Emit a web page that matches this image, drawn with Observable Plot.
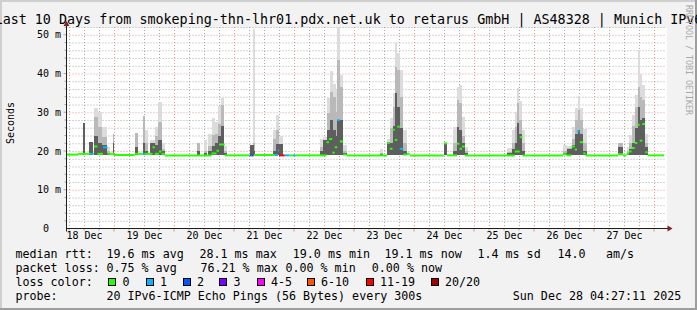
<!DOCTYPE html>
<html><head><meta charset="utf-8">
<script src="https://cdn.jsdelivr.net/npm/d3@7"></script>
<script src="https://cdn.jsdelivr.net/npm/@observablehq/plot@0.6"></script>
<style>
html,body{margin:0;padding:0;background:#f2f2f2;}
#chart{width:697px;height:310px;overflow:hidden;}
svg text{font-family:"DejaVu Sans Mono",monospace;}
</style></head>
<body><div id="chart"></div>
<script>
// ---------- data ----------
const titleText = "Last 10 Days from smokeping-thn-lhr01.pdx.net.uk to retarus GmbH | AS48328 | Munich IPv6";
const yLabelText = "Seconds";
const yTickValues = [0, 10, 20, 30, 40, 50];
const yTickLabels = ["0", "10 m", "20 m", "30 m", "40 m", "50 m"];
const xTickDays = [18, 19, 20, 21, 22, 23, 24, 25, 26, 27];
const xTickLabels = ["18 Dec", "19 Dec", "20 Dec", "21 Dec", "22 Dec", "23 Dec", "24 Dec", "25 Dec", "26 Dec", "27 Dec"];

const lossClassLabels = ["0", "1", "2", "3", "4-5", "6-10", "11-19", "20/20"];
const lossClassMax = [0, 1, 2, 3, 5, 10, 19, 20];
const lossClassColors = ["#26ff00", "#00b8ff", "#0059ff", "#7e00ff", "#ff00ff", "#ff5500", "#ff0000", "#a10000"];

const rttStats = ["19.6 ms avg", "28.1 ms max", "19.0 ms min", "19.1 ms now", "1.4 ms sd", "14.0", "am/s"];
const lossStats = ["0.75 % avg", "76.21 % max", "0.00 % min", "0.00 % now"];
const probeText = "20 IPv6-ICMP Echo Pings (56 Bytes) every 300s";
const stampText = "Sun Dec 28 04:27:11 2025";
const watermarkText = "RRDTOOL / TOBI OETIKER";

// time in hours since 18 Dec 00:00
const floorMs = 19.0;
const smokeStartH = [11.4,14.0,16.0,17.4,19.0,21.0,23.4,32.3,35.4,36.3,38.3,40.3,41.6,43.0,
  57.3,59.9,61.6,63.0,64.3,65.4,66.7,68.0,78.3,79.4,87.4,88.7,90.0,
  106.3,107.4,109.0,110.3,111.7,112.8,113.3,114.3,115.7,
  130.3,133.3,134.3,135.4,136.3,137.3,138.3,139.7,
  155.9,159.6,161.0,162.0,163.0,164.3,
  181.0,183.0,184.3,185.3,186.0,187.0,
  203.6,205.0,207.0,208.3,209.4,210.3,211.7,
  225.6,229.0,229.9,231.3,232.3,233.4,234.3,235.2,236.3];
const smokeEndH = [12.3,15.6,17.4,19.0,21.0,22.3,24.0,33.6,36.3,37.6,40.3,41.6,43.0,44.3,
  58.3,61.0,63.0,64.3,65.4,66.7,68.0,69.1,79.9,80.3,88.7,90.0,91.4,
  107.4,109.0,110.3,111.7,112.8,113.3,114.3,115.7,117.0,
  131.7,134.3,135.4,136.3,137.3,138.3,139.7,141.0,
  157.2,161.0,162.0,163.0,164.3,165.5,
  183.0,184.3,185.3,186.0,187.0,188.3,
  205.0,207.0,208.3,209.4,210.3,211.7,213.0,
  227.6,229.9,231.3,232.3,233.4,234.3,235.2,236.3,237.4];
const smokeLight = [27.3,22.4,31.0,30.1,26.2,21.0,24.3,24.6,29.0,25.4,22.8,26.2,32.7,22.0,
  22.1,22.8,24.5,28.4,27.5,31.6,33.8,21.3,21.5,51.6,25.4,29.4,24.0,
  23.0,23.5,33.8,40.7,37.4,35.7,51.9,39.6,21.5,
  20.5,23.2,28.4,34.9,47.8,45.2,40.9,25.4,
  22.1,26.2,36.6,37.0,28.8,21.0,
  20.8,25.4,30.1,36.2,33.0,25.4,
  21.5,21.3,26.2,31.0,34.2,31.0,25.8,
  22.1,21.0,24.1,29.3,34.4,46.0,40.0,37.0,24.5];
const smokeMid = [27.3,22.4,28.8,26.2,23.7,20.0,24.3,24.6,29.0,22.0,22.0,24.0,27.5,20.5,
  22.1,20.0,21.2,24.1,24.5,27.0,31.8,20.0,21.5,22.0,23.2,25.4,21.8,
  21.0,22.8,29.7,35.3,34.0,30.0,43.5,36.6,20.0,
  19.5,22.2,26.0,31.4,41.7,40.9,34.0,22.0,
  22.1,22.0,33.1,32.3,24.0,20.0,
  19.8,22.0,26.2,32.3,28.0,22.0,
  20.0,20.7,23.0,28.0,30.6,28.0,22.0,
  22.1,20.0,22.0,26.5,31.4,36.6,34.0,33.1,22.0];
const smokeDark = [27.3,22.4,24.0,22.0,21.5,19.5,22.0,21.0,22.0,20.0,22.0,21.5,22.8,20.0,
  20.0,19.5,20.0,21.2,22.0,24.0,26.5,19.5,21.5,20.0,20.0,21.8,21.8,
  20.0,22.8,25.4,28.0,25.4,24.0,28.0,28.0,19.5,
  19.2,22.2,22.0,26.5,34.9,31.4,26.0,20.0,
  22.1,20.0,26.2,25.5,22.0,19.5,
  19.4,20.5,22.0,27.1,24.5,20.0,
  19.5,20.5,21.5,24.5,25.4,24.5,20.0,
  21.0,19.5,20.5,22.0,26.0,31.4,28.0,28.5,21.0];

// median rtt: step segments (start hour, value in ms, lost pings out of 20)
const medianEndH = 244;
const medStartH = [5,9.6,14.4,15.6,16.0,17.4,19.6,21.4,24.0,32.3,35.4,36.3,39.4,40.3,42.0,43.0,44.3,
  63.0,65.0,66.0,68.3,78.3,79.1,79.9,88.3,89.6,90.0,92.3,94.3,95.6,96.7,
  109.0,110.0,111.3,112.3,113.3,114.3,115.7,117.0,
  133.3,134.3,135.4,136.3,137.3,138.3,139.7,141.0,142.3,
  155.9,157.2,161.2,162.2,163.2,164.3,
  184.3,186.3,187.4,
  203.6,205.0,207.0,208.3,209.2,210.3,211.7,212.7,
  225.6,227.6,229.0,230.0,231.0,232.3,233.3,234.3,235.3,236.5,237.5];
const medMs = [19.2,19.4,19.4,19.4,21.3,19.4,21.1,19.4,19.1,19.4,19.4,19.4,21.1,19.4,20.0,19.4,19.0,
  19.5,20.2,21.8,19.0,19.0,19.0,19.1,19.1,20.3,19.0,19.0,19.0,19.0,19.0,
  22.4,23.2,19.7,21.1,28.1,22.6,19.2,19.0,
  22.2,20.7,25.6,23.0,26.4,20.7,19.2,19.4,19.0,
  22.1,19.0,22.0,20.7,21.3,19.0,
  20.0,23.7,19.0,
  19.3,19.0,21.3,20.5,25.2,22.4,19.5,19.0,
  19.3,19.0,19.4,20.0,20.9,22.2,26.9,22.8,27.1,19.8,19.0];
const medLoss = [0,0,1,0,0,0,1,0,0,0,1,0,0,0,0,0,0,
  0,0,0,0,2,3,0,1,1,15,1,0,1,0,
  0,0,0,0,1,0,0,0,
  0,0,0,0,0,1,0,0,0,
  0,0,0,0,0,0,
  0,0,0,
  0,0,0,0,1,0,0,0,
  0,0,0,0,0,0,0,0,0,0,0];

// ---------- build ----------
const H0 = Date.UTC(2025, 11, 18);
const at = h => new Date(H0 + h * 3600e3);
const xDomain = [at(5), at(245)];
const lossColor = n => lossClassColors[lossClassMax.findIndex(m => n <= m)];

const smoke = smokeStartH.map((h, i) => ({
  x1: at(h), x2: at(smokeEndH[i]), light: smokeLight[i], mid: smokeMid[i], dark: smokeDark[i]
}));
const median = medStartH.map((h, i) => ({
  x1: at(h), x2: at(i + 1 < medStartH.length ? medStartH[i + 1] : medianEndH),
  y: medMs[i], color: lossColor(medLoss[i])
}));

const hours6 = d3.utcHour.every(6).range(xDomain[0], xDomain[1]);
const midnights = hours6.filter(d => d.getUTCHours() === 0);
const minor6 = hours6.filter(d => d.getUTCHours() !== 0);
const yMinor = d3.range(2, 52.01, 2).filter(v => v % 10 !== 0);
const yMajor = yTickValues.filter(v => v > 0);

const GRID = "rgba(143,143,143,0.75)";
const MGRID = "rgba(222,79,79,0.6)";

const plot = Plot.plot({
  width: 697, height: 310,
  marginLeft: 66.5, marginRight: 30.5, marginTop: 27, marginBottom: 81.5,
  style: {background: "transparent", fontFamily: "'DejaVu Sans Mono', monospace", fontSize: "10px", color: "#000", overflow: "hidden"},
  x: {type: "utc", domain: xDomain, axis: null},
  y: {domain: [0, 52], axis: null},
  color: {type: "identity"},
  marks: [
    Plot.frame({fill: "white", stroke: "none"}),
    Plot.ruleY(yMinor, {stroke: GRID, strokeDasharray: "1,2"}),
    Plot.ruleX(minor6, {stroke: GRID, strokeDasharray: "1,2"}),
    Plot.ruleY(yMajor, {stroke: MGRID, strokeDasharray: "1,2"}),
    Plot.ruleX(midnights, {stroke: MGRID, strokeDasharray: "1,2"}),
    Plot.rect(smoke, {x1: "x1", x2: "x2", y1: () => floorMs, y2: "light", fill: "#dcdcdc", shapeRendering: "crispEdges"}),
    Plot.rect(smoke, {x1: "x1", x2: "x2", y1: () => floorMs, y2: "mid", fill: "#b9b9b9", shapeRendering: "crispEdges"}),
    Plot.rect(smoke, {x1: "x1", x2: "x2", y1: () => floorMs, y2: "dark", fill: "#5e5e5e", shapeRendering: "crispEdges"}),
    Plot.ruleY(median, {x1: "x1", x2: "x2", y: "y", stroke: "color", strokeWidth: 2}),
    Plot.text(yMajor, {y: d => d, text: d => yTickLabels[yTickValues.indexOf(d)], frameAnchor: "left", textAnchor: "end", dx: -6, fontSize: 10}),
    Plot.text([0], {y: d => d, text: d => yTickLabels[yTickValues.indexOf(d)], frameAnchor: "left", textAnchor: "end", dx: -18, fontSize: 10}),
    Plot.text(xTickDays, {x: d => at((d - 18) * 24 + 12), text: (d, i) => xTickLabels[i], frameAnchor: "bottom", dy: 9.5, fontSize: 10})
  ]
});
document.getElementById("chart").appendChild(plot);

// ---------- decorations through Plot's scales ----------
const svg = d3.select(plot);
const sx = plot.scale("x"), sy = plot.scale("y");
const X = d => sx.apply(d), Y = v => sy.apply(v);
const xl = X(xDomain[0]), xr = X(xDomain[1]), y0 = Y(0);
const g = svg.append("g");

// y ticks
yMinor.forEach(v => g.append("line").attr("x1", xl - 2).attr("x2", xl).attr("y1", Y(v)).attr("y2", Y(v)).attr("stroke", GRID));
yMajor.forEach(v => g.append("line").attr("x1", xl - 3).attr("x2", xl).attr("y1", Y(v)).attr("y2", Y(v)).attr("stroke", MGRID));
// x ticks
minor6.forEach(d => g.append("line").attr("x1", X(d)).attr("x2", X(d)).attr("y1", y0).attr("y2", y0 + 2).attr("stroke", GRID));
midnights.forEach(d => g.append("line").attr("x1", X(d)).attr("x2", X(d)).attr("y1", y0).attr("y2", y0 + 3).attr("stroke", MGRID));
// axes
g.append("line").attr("x1", xl).attr("x2", xr + 2).attr("y1", y0).attr("y2", y0).attr("stroke", "#1f1f1f");
g.append("line").attr("x1", xl).attr("x2", xl).attr("y1", y0 + 3).attr("y2", Y(52) - 1).attr("stroke", "#1f1f1f");
g.append("path").attr("d", `M${xr + 1},${y0 - 3}L${xr + 1},${y0 + 3}L${xr + 6},${y0}Z`).attr("fill", "#801f1f");
g.append("path").attr("d", `M${xl - 3},${Y(52) - 1}L${xl + 3},${Y(52) - 1}L${xl},${Y(52) - 6}Z`).attr("fill", "#801f1f");

// frame shading
svg.append("path").attr("d", "M0,310V0H697V2H2V310Z").attr("fill", "#cfcfcf");
svg.append("path").attr("d", "M697,0V310H0V308H695V0Z").attr("fill", "#9e9e9e");

// title
svg.append("text").attr("x", 348.5).attr("y", 23.5).attr("text-anchor", "middle")
  .attr("font-size", 13.36).attr("fill", "#000").text(titleText);
// y label
svg.append("text").attr("transform", "translate(13.5,123) rotate(-90)").attr("text-anchor", "middle")
  .attr("font-size", 10).attr("fill", "#000").text(yLabelText);
// watermark
svg.append("text").attr("transform", "translate(688.5,5) rotate(90)").attr("text-anchor", "start")
  .attr("font-size", 8.3).attr("fill", "#a8a8a8").attr("dominant-baseline", "central")
  .text(watermarkText);

// legend
const LF = 11.66;
const rows = [258.3, 272.3, 286.3, 300.3];
const put = (x, y, s) => svg.append("text").attr("x", x).attr("y", y).attr("text-anchor", "start")
  .attr("font-size", LF).attr("fill", "#000").text(s);
put(15.5, rows[0], "median rtt:");
[106.5, 199.5, 292.8, 384.5, 477.5, 557.5, 606].forEach((x, i) => put(x, rows[0], rttStats[i]));
put(15.5, rows[1], "packet loss:");
[106.5, 200.5, 285.5, 371.8].forEach((x, i) => put(x, rows[1], lossStats[i]));
put(15.5, rows[2], "loss color:");
[108.3, 145.7, 182.7, 219.3, 256.7, 306.7, 365.7, 430.7].forEach((x, i) => {
  svg.append("rect").attr("x", Math.round(x) + 0.5).attr("y", 278.5).attr("width", 7).attr("height", 7)
    .attr("fill", lossClassColors[i]).attr("stroke", "#000");
  put(x + 14.3, rows[2], lossClassLabels[i]);
});
put(15.5, rows[3], "probe:");
put(106.5, rows[3], probeText);
put(512.8, rows[3], stampText);
</script>
</body></html>
